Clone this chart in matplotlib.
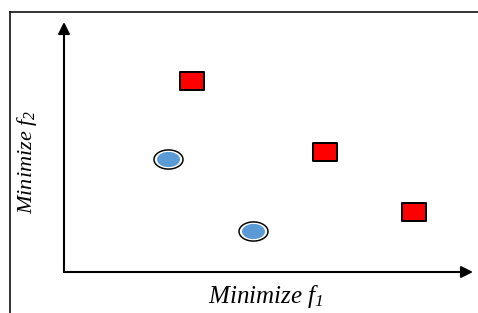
import matplotlib
matplotlib.use("Agg")
import matplotlib.pyplot as plt
import numpy as np
from matplotlib.path import Path
from matplotlib.lines import Line2D

plt.rcParams['mathtext.fontset'] = 'custom'
plt.rcParams['mathtext.it'] = 'Liberation Serif:italic'
plt.rcParams['mathtext.rm'] = 'Liberation Serif:italic'

# objective values (f1, f2), axis range 0..10
dominated_f1 = [3.12, 6.38, 8.56]
dominated_f2 = [7.64, 4.82, 2.42]
pareto_f1 = [2.54, 4.62]
pareto_f2 = [4.54, 1.64]

x_label = r"$Minimize\ f_{1}$"
y_label = r"$Minimize\ f_{2}$"

W, H = 478, 313
fig = plt.figure(figsize=(W / 100, H / 100), dpi=100)

# outer frame (top and left edges only are visible)
fig.add_artist(Line2D([9.5 / W, 1], [1 - 11.5 / H, 1 - 11.5 / H], color="#222222", lw=1.3))
fig.add_artist(Line2D([9.5 / W, 9.5 / W], [0, 1 - 11.5 / H], color="#222222", lw=1.3))

ax = fig.add_axes([64 / W, 41 / H, 409 / W, 250 / H])
ax.set_xlim(0, 10)
ax.set_ylim(0, 10)
ax.axis("off")

# axes as arrows
arrow = dict(arrowstyle="-|>,head_length=0.7,head_width=0.35", color="black", lw=1.5,
             shrinkA=0, shrinkB=0)
ax.annotate("", xy=(1, 0), xytext=(0, 0), xycoords="axes fraction", arrowprops=arrow,
            annotation_clip=False)
ax.annotate("", xy=(0, 1), xytext=(0, 0), xycoords="axes fraction", arrowprops=arrow,
            annotation_clip=False)

# marker shapes
rect = Path([(-13, -9.5), (13, -9.5), (13, 9.5), (-13, 9.5), (-13, -9.5)],
            [Path.MOVETO, Path.LINETO, Path.LINETO, Path.LINETO, Path.CLOSEPOLY])
t = np.linspace(0, 2 * np.pi, 80)
ell = Path(np.column_stack([np.cos(t), 0.66 * np.sin(t)]))

px = 72 / 100
ax.plot(dominated_f1, dominated_f2, ls="none", marker=rect, ms=24 * px,
        mfc="#ff0000", mec="black", mew=2 * px, clip_on=False)
ax.plot(pareto_f1, pareto_f2, ls="none", marker=ell, ms=29 * px,
        mfc="white", mec="black", mew=1.5 * px, clip_on=False)
ax.plot(pareto_f1, pareto_f2, ls="none", marker=ell, ms=23 * px,
        mfc="#5b9bd5", mec="none", clip_on=False)

fig.text(266 / W, 1 - 296 / H, x_label, fontsize=18, ha="center", va="center")
fig.text(27 / W, 1 - 162 / H, y_label, fontsize=16, ha="center", va="center", rotation=90)

fig.savefig("out.png", dpi=100)
